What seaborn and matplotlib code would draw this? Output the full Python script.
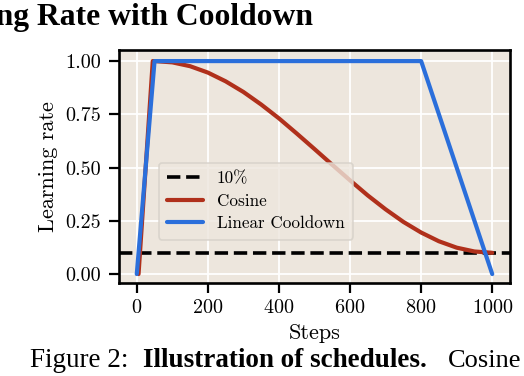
import matplotlib
matplotlib.use("Agg")
import matplotlib.pyplot as plt
import seaborn as sns

# values
steps_cos = [5, 45, 50, 100, 150, 200, 250, 300, 350, 400, 450, 500, 550, 600,
             650, 700, 750, 800, 850, 900, 950, 1000]
lr_cos = [0.0, 1.0, 1.0, 0.994, 0.976, 0.946, 0.905, 0.855, 0.796, 0.731, 0.660,
          0.587, 0.513, 0.440, 0.369, 0.304, 0.245, 0.195, 0.154, 0.124, 0.106, 0.100]
steps_lin = [0, 50, 800, 1000]
lr_lin = [0.0, 1.0, 1.0, 0.0]
floor_lr = 0.1

xticks = [0, 200, 400, 600, 800, 1000]
yticks = [0.0, 0.25, 0.5, 0.75, 1.0]

red = "#B0301B"
blue = "#2B6FDB"

sns.set_theme(style="darkgrid", rc={
    "axes.facecolor": "#EDE6DD",
    "grid.color": "white",
    "grid.linewidth": 1.3,
    "axes.edgecolor": "black",
    "axes.linewidth": 1.9,
    "axes.labelcolor": "black",
    "text.color": "black",
    "xtick.bottom": True,
    "ytick.left": True,
    "xtick.major.size": 7.5,
    "ytick.major.size": 7.5,
    "xtick.major.width": 1.6,
    "ytick.major.width": 1.6,
    "xtick.color": "black",
    "ytick.color": "black",
    "xtick.major.pad": 4,
    "ytick.major.pad": 5.5,
})
plt.rcParams["font.family"] = ["cmr10", "DejaVu Serif"]
plt.rcParams["axes.formatter.use_mathtext"] = True
plt.rcParams["mathtext.fontset"] = "cm"

fig = plt.figure(figsize=(5.24, 3.76), dpi=100)
ax = fig.add_axes([0.2271, 0.2473, 0.7462, 0.6197])

ax.axhline(floor_lr, color="black", lw=2.6, ls="--", label="10%")
sns.lineplot(x=steps_cos, y=lr_cos, ax=ax, color=red, lw=3.0, label="Cosine")
sns.lineplot(x=steps_lin, y=lr_lin, ax=ax, color=blue, lw=3.0, label="Linear Cooldown")

ax.set_xlim(-50, 1050)
ax.set_ylim(-0.042, 1.052)
ax.set_xticks(xticks)
ax.set_yticks(yticks)
ax.set_yticklabels([f"{v:.2f}" for v in yticks])
ax.tick_params(labelsize=14.5)
ax.set_xlabel("Steps", fontsize=16, labelpad=5)
ax.set_ylabel("Learning rate", fontsize=16, labelpad=5)

leg = ax.legend(loc="lower left", bbox_to_anchor=(0.102, 0.185), borderaxespad=0,
                fontsize=12.3, frameon=True, handlelength=2.1, handletextpad=0.8,
                borderpad=0.5, labelspacing=0.42)
leg.get_frame().set_edgecolor("#D5D0C8")
leg.get_frame().set_facecolor("#EDE6DD")
leg.get_frame().set_linewidth(1.2)

# page context around the figure (cropped title and caption)
fig.text(313 / 524, 1 - 25 / 376, "Learning Rate with Cooldown", ha="right",
         va="baseline", fontsize=22.8, fontweight="bold", family="Liberation Serif")
fig.text(30 / 524, 1 - 367 / 376, "Figure 2:", ha="left", va="baseline",
         fontsize=19.5, family="Liberation Serif")
fig.text(143 / 524, 1 - 367 / 376, "Illustration of schedules.", ha="left",
         va="baseline", fontsize=19.5, fontweight="bold", family="Liberation Serif")
fig.text(448 / 524, 1 - 367 / 376, "Cosine", ha="left", va="baseline",
         fontsize=19, family="Liberation Serif")

fig.savefig("out.png", dpi=100)
